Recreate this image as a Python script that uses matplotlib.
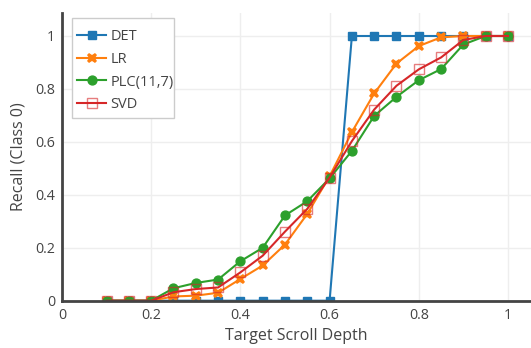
import matplotlib
matplotlib.use("Agg")
import matplotlib.pyplot as plt
from matplotlib.patches import Rectangle

x = [0.1, 0.15, 0.2, 0.25, 0.3, 0.35, 0.4, 0.45, 0.5, 0.55, 0.6, 0.65, 0.7, 0.75, 0.8, 0.85, 0.9, 0.95, 1.0]
det = [0, 0, 0, 0, 0, 0, 0, 0, 0, 0, 0, 1, 1, 1, 1, 1, 1, 1, 1]
lr = [0, 0, 0, 0.016, 0.019, 0.03, 0.082, 0.133, 0.212, 0.328, 0.47, 0.637, 0.783, 0.896, 0.962, 0.995, 1.0, 1.0, 1.0]
plc = [0, 0, 0, 0.047, 0.067, 0.08, 0.149, 0.2, 0.322, 0.376, 0.462, 0.566, 0.698, 0.77, 0.833, 0.875, 0.968, 1.0, 1.0]
svd = [0, 0, 0, 0.032, 0.044, 0.05, 0.107, 0.17, 0.261, 0.347, 0.465, 0.603, 0.722, 0.812, 0.874, 0.919, 0.985, 1.0, 1.0]
xticks = [0, 0.2, 0.4, 0.6, 0.8, 1]
xticklabels = ["0", "0.2", "0.4", "0.6", "0.8", "1"]
yticks = [0, 0.2, 0.4, 0.6, 0.8, 1]
yticklabels = ["0", "0.2", "0.4", "0.6", "0.8", "1"]

plt.rcParams['font.family'] = ['Open Sans', 'DejaVu Sans']
fig = plt.figure(figsize=(5.31, 3.48), dpi=100)
W, H = 531, 348
ax = fig.add_axes([62 / W, (H - 300.7) / H, (W - 62) / W, (300.7 - 12.7) / H])

blue, orange, green, red = '#1f77b4', '#ff7f0e', '#2ca02c', '#d62728'
ax.plot(x, det, color=blue, lw=1.5, marker='s', ms=6.2, mec=blue, mfc=blue, label='DET', zorder=3)
ax.plot(x, lr, color=orange, lw=1.5, marker='X', ms=7.5, mec=orange, mfc=orange, mew=0, label='LR', zorder=3)
ax.plot(x, plc, color=green, lw=1.5, marker='o', ms=6.4, mec=green, mfc=green, label='PLC(11,7)', zorder=3)
ax.plot(x, svd, color=red, lw=1.5, marker='s', ms=6.6, mfc='none', mec=(0.84, 0.15, 0.16, 0.6), mew=1.0, label='SVD', zorder=3)

ax.set_xlim(0, 1.0516)
ax.set_ylim(0, 1.088)
ax.set_xticks(xticks)
ax.set_xticklabels(xticklabels)
ax.set_yticks(yticks)
ax.set_yticklabels(yticklabels)
ax.grid(True, color='#eeeeee', lw=1)
ax.set_axisbelow(True)
for s in ['top', 'right']:
    ax.spines[s].set_visible(False)
for s in ['left', 'bottom']:
    ax.spines[s].set_color('#444444')
    ax.spines[s].set_linewidth(2)
    ax.spines[s].set_zorder(4)
ax.tick_params(length=0, labelsize=10.3, colors='#444444', pad=5)
ax.set_xlabel('Target Scroll Depth', fontsize=11.5, color='#444444', labelpad=4)
ax.set_ylabel('Recall (Class 0)', fontsize=11.5, color='#444444', labelpad=6)

# legend frame drawn as a figure rectangle
fig.patches.append(Rectangle((72 / W, 1 - 118 / H), 102 / W, 100 / H, transform=fig.transFigure,
                             facecolor='white', edgecolor='#cccccc', lw=1, zorder=5))
leg = fig.legend(loc='upper left', bbox_to_anchor=(72 / W, 1 - 24 / H), borderaxespad=0,
                 fontsize=10.5, handlelength=2.0, handletextpad=0.3, labelspacing=0.53,
                 borderpad=0.35, frameon=False)
leg.set_zorder(6)
for t in leg.get_texts():
    t.set_color('#444444')

fig.savefig('out.png', dpi=100)
